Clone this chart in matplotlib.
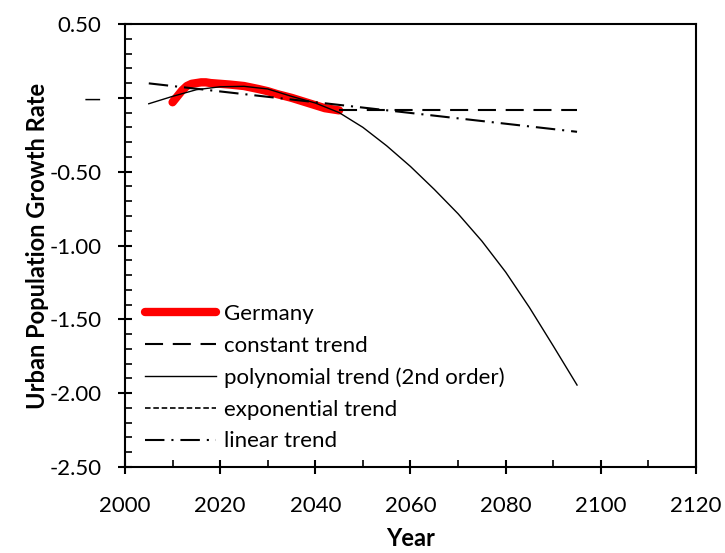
import matplotlib
matplotlib.use("Agg")
from matplotlib import pyplot as plt
from matplotlib.ticker import MultipleLocator, FuncFormatter

plt.rcParams['font.family'] = ['Lato', 'DejaVu Sans']
plt.rcParams['lines.scale_dashes'] = False

# Germany (observed/projected)
germany_years = [2010, 2011, 2012, 2013, 2014, 2015, 2016, 2017, 2018, 2020,
                 2022, 2025, 2028, 2030, 2032, 2035, 2038, 2040, 2042, 2045]
germany_vals = [-0.03, 0.01, 0.05, 0.08, 0.095, 0.10, 0.105, 0.105, 0.10, 0.095,
                0.09, 0.08, 0.06, 0.045, 0.025, 0.0, -0.03, -0.05, -0.07, -0.085]

# constant trend
const_years = [2045, 2095]
const_vals = [-0.085, -0.085]

# polynomial trend (2nd order)
poly_years = [2005, 2010, 2015, 2020, 2025, 2030, 2035, 2040, 2045, 2050,
              2055, 2060, 2065, 2070, 2075, 2080, 2085, 2090, 2095]
poly_vals = [-0.04, 0.01, 0.055, 0.075, 0.078, 0.06, 0.01, -0.035, -0.10, -0.20,
             -0.325, -0.465, -0.62, -0.785, -0.97, -1.18, -1.42, -1.68, -1.945]

# exponential trend (hidden under the others)
exp_years = []
exp_vals = []

# linear trend
lin_years = [2005, 2095]
lin_vals = [0.098, -0.23]

fig = plt.figure(figsize=(7.25, 5.53), dpi=100)
ax = fig.add_axes([0.1724, 0.1555, 0.7876, 0.8011])

ax.plot(germany_years, germany_vals, color='#ff0000', lw=6, solid_capstyle='round',
        label='Germany', zorder=2)
ax.plot(const_years, const_vals, color='black', lw=1.5, ls=(0, (13, 7)),
        label='constant trend', zorder=3)
ax.plot(poly_years, poly_vals, color='black', lw=1.0, label='polynomial trend (2nd order)',
        zorder=3)
ax.plot(exp_years, exp_vals, color='black', lw=1.2, ls=(0, (4, 2)),
        label='exponential trend', zorder=3)
ax.plot(lin_years, lin_vals, color='black', lw=1.5, ls=(0, (14, 5, 1.5, 5)),
        label='linear trend', zorder=3)

ax.set_xlim(2000, 2120)
ax.set_ylim(-2.5, 0.5)
ax.xaxis.set_major_locator(MultipleLocator(20))
ax.xaxis.set_minor_locator(MultipleLocator(10))
ax.yaxis.set_major_locator(MultipleLocator(0.5))
ax.yaxis.set_minor_locator(MultipleLocator(0.1))


def yfmt(v, pos):
    if abs(v) < 1e-9:
        return '\u2014'
    return '%.2f' % v


ax.yaxis.set_major_formatter(FuncFormatter(yfmt))

for s in ax.spines.values():
    s.set_linewidth(1.5)
ax.tick_params(which='major', direction='inout', length=10, width=1.5,
               labelsize=16)
ax.tick_params(which='minor', direction='in', length=5, width=1.2)
ax.tick_params(axis='x', which='major', pad=16)
ax.tick_params(axis='y', which='major', pad=12)

ax.set_xlabel('Year', fontsize=17, fontweight='bold', labelpad=8)
ax.set_ylabel('Urban Population Growth Rate', fontsize=17, fontweight='bold', labelpad=0)

ax.legend(loc='lower left', bbox_to_anchor=(0.0, -0.01), frameon=False, fontsize=16,
          handlelength=3.2, handletextpad=0.35, labelspacing=0.53, borderaxespad=0.5)

fig.savefig('out.png', dpi=100)
